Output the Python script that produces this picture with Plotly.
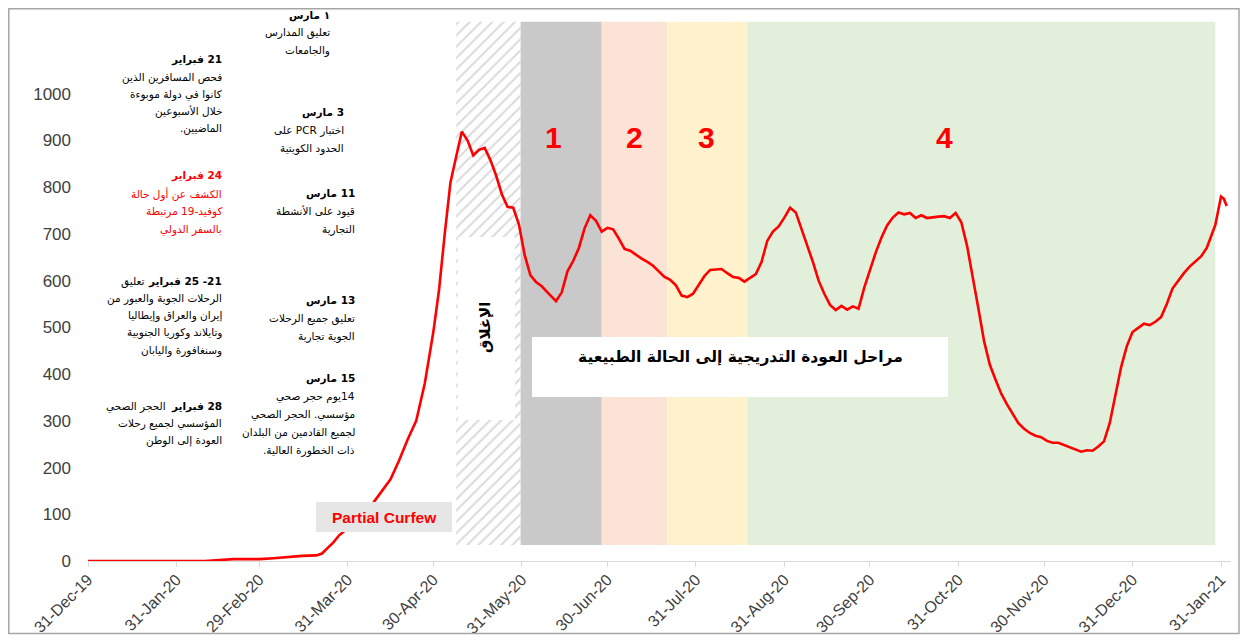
import plotly.graph_objects as go

# ---------------- data ----------------
dates = [
    "2019-12-31", "2020-01-15", "2020-01-31", "2020-02-10", "2020-02-15", "2020-02-20",
    "2020-02-25", "2020-02-29", "2020-03-05", "2020-03-10", "2020-03-15", "2020-03-20",
    "2020-03-22", "2020-03-24", "2020-03-26", "2020-03-28", "2020-03-31", "2020-04-03",
    "2020-04-06", "2020-04-09", "2020-04-12", "2020-04-15", "2020-04-18", "2020-04-21",
    "2020-04-24", "2020-04-27", "2020-04-30", "2020-05-02", "2020-05-04", "2020-05-06",
    "2020-05-08", "2020-05-10", "2020-05-12", "2020-05-14", "2020-05-16", "2020-05-18",
    "2020-05-20", "2020-05-22", "2020-05-24", "2020-05-26", "2020-05-28", "2020-05-30",
    "2020-06-01", "2020-06-03", "2020-06-05", "2020-06-07", "2020-06-09", "2020-06-11",
    "2020-06-12", "2020-06-14", "2020-06-16", "2020-06-18", "2020-06-20", "2020-06-22",
    "2020-06-24", "2020-06-26", "2020-06-28", "2020-06-30", "2020-07-02", "2020-07-04",
    "2020-07-06", "2020-07-08", "2020-07-10", "2020-07-12", "2020-07-14", "2020-07-16",
    "2020-07-18", "2020-07-20", "2020-07-22", "2020-07-24", "2020-07-26", "2020-07-28",
    "2020-07-30", "2020-08-01", "2020-08-03", "2020-08-05", "2020-08-07", "2020-08-09",
    "2020-08-11", "2020-08-13", "2020-08-15", "2020-08-17", "2020-08-19", "2020-08-21",
    "2020-08-23", "2020-08-25", "2020-08-27", "2020-08-29", "2020-08-31", "2020-09-02",
    "2020-09-04", "2020-09-06", "2020-09-08", "2020-09-10", "2020-09-12", "2020-09-14",
    "2020-09-16", "2020-09-18", "2020-09-20", "2020-09-22", "2020-09-24", "2020-09-26",
    "2020-09-28", "2020-09-30", "2020-10-02", "2020-10-04", "2020-10-06", "2020-10-08",
    "2020-10-10", "2020-10-12", "2020-10-14", "2020-10-16", "2020-10-18", "2020-10-20",
    "2020-10-22", "2020-10-24", "2020-10-26", "2020-10-28", "2020-10-30", "2020-11-01",
    "2020-11-03", "2020-11-05", "2020-11-07", "2020-11-09", "2020-11-11", "2020-11-13",
    "2020-11-15", "2020-11-17", "2020-11-19", "2020-11-21", "2020-11-23", "2020-11-25",
    "2020-11-27", "2020-11-29", "2020-12-01", "2020-12-03", "2020-12-05", "2020-12-07",
    "2020-12-09", "2020-12-11", "2020-12-13", "2020-12-15", "2020-12-17", "2020-12-19",
    "2020-12-21", "2020-12-23", "2020-12-25", "2020-12-27", "2020-12-29", "2020-12-31",
    "2021-01-02", "2021-01-04", "2021-01-06", "2021-01-08", "2021-01-10", "2021-01-12",
    "2021-01-14", "2021-01-16", "2021-01-18", "2021-01-20", "2021-01-22", "2021-01-24",
    "2021-01-26", "2021-01-28", "2021-01-29", "2021-01-31", "2021-02-01", "2021-02-02",
]
cases = [
    0, 0, 0, 0, 2, 4,
    4, 4, 6, 9, 11, 12,
    16, 28, 40, 55, 70, 88,
    105, 125, 150, 175, 215, 260,
    300, 380, 490, 580, 700, 810,
    865, 919, 900, 868, 880, 884,
    858, 825, 785, 758, 756, 720,
    655, 612, 597, 588, 575, 562,
    556, 575, 620, 642, 670, 712,
    740, 728, 705, 713, 710, 690,
    668, 664, 655, 647, 640, 632,
    620, 608, 602, 590, 568, 565,
    572, 590, 610, 623, 624, 625,
    616, 608, 606, 598, 606, 614,
    640, 685, 705, 716, 735, 756,
    746, 712, 675, 640, 600, 572,
    548, 537, 546, 538, 545, 540,
    585, 623, 660, 692, 718, 735,
    746, 742, 745, 734, 740, 734,
    736, 737, 738, 734, 745, 725,
    675, 610, 540, 470, 420, 388,
    358, 335, 315, 295, 283, 274,
    268, 265, 257, 253, 253, 248,
    243, 238, 234, 237, 236, 245,
    256, 295, 355, 415, 460, 490,
    499, 508, 505, 512, 522, 550,
    583, 600, 616, 630, 640, 652,
    670, 700, 719, 780, 775, 760,
]

tick_dates = ["2019-12-31", "2020-01-31", "2020-02-29", "2020-03-31", "2020-04-30",
              "2020-05-31", "2020-06-30", "2020-07-31", "2020-08-31", "2020-09-30",
              "2020-10-31", "2020-11-30", "2020-12-31", "2021-01-31"]
tick_labels = ["31-Dec-19", "31-Jan-20", "29-Feb-20", "31-Mar-20", "30-Apr-20",
               "31-May-20", "30-Jun-20", "31-Jul-20", "31-Aug-20", "30-Sep-20",
               "31-Oct-20", "30-Nov-20", "31-Dec-20", "31-Jan-21"]
y_ticks = [0, 100, 200, 300, 400, 500, 600, 700, 800, 900, 1000]

lockdown_span = ["2020-05-08", "2020-05-30T12:00"]
phase_starts = ["2020-05-30T12:00", "2020-06-28", "2020-07-21", "2020-08-18"]
phase_ends = ["2020-06-28", "2020-07-21", "2020-08-18", "2021-01-29"]
phase_names = ["1", "2", "3", "4"]
phase_colors = ["#c9c9c9", "#fbe3d6", "#fff2cc", "#e2efda"]

# each line: list of (text, bold, right-edge x) segments
left_notes = [
    ([[("21 فبراير", True, 224)], [("فحص المسافرين الذين", False, 224)], [("كانوا في دولة موبوءة", False, 224)],
      [("خلال الأسبوعين", False, 224)], [("الماضيين.", False, 224)]], "#000000"),
    ([[("24 فبراير", True, 224)], [("الكشف عن أول حالة", False, 224)], [("كوفيد-19 مرتبطة", False, 224)],
      [("بالسفر الدولي", False, 224)]], "#ff0000"),
    ([[("21- 25 فبراير", True, 224), ("تعليق", False, 146)], [("الرحلات الجوية والعبور من", False, 224)],
      [("إيران والعراق وإيطاليا", False, 224)], [("وتايلاند وكوريا الجنوبية", False, 224)],
      [("وسنغافورة واليابان", False, 224)]], "#000000"),
    ([[("28 فبراير", True, 224), ("الحجر الصحي", False, 168)], [("المؤسسي لجميع رحلات", False, 224)],
      [("العودة إلى الوطن", False, 224)]], "#000000"),
]
mid_notes = [
    [("١ مارس", True), ("تعليق المدارس", False), ("والجامعات", False)],
    [("3 مارس", True), ("اختبار PCR على", False), ("الحدود الكويتية", False)],
    [("11 مارس", True), ("قيود على الأنشطة", False), ("التجارية", False)],
    [("13 مارس", True), ("تعليق جميع الرحلات", False), ("الجوية تجارية", False)],
    [("15 مارس", True), ("14يوم حجر صحي", False), ("مؤسسي. الحجر الصحي", False),
     ("لجميع القادمين من البلدان", False), ("ذات الخطورة العالية.", False)],
]
lockdown_label = "الإغلاق"
phases_title = "مراحل العودة التدريجية إلى الحالة الطبيعية"
curfew_label = "Partial Curfew"

# ---------------- layout helpers ----------------
OFF = 8  # page body margin
W, H = 1232, 627
L, R, T, B = 80, 9, 11, 74
PW, PH = W - L - R, H - T - B


def px(x):
    return (x - OFF - L) / PW


def py(y):
    return (H - B - (y - OFF)) / PH


AR_FONT = "DejaVu Sans"
band_lo, band_hi = 34, 1154


def rtl(txt, bold):
    t = "\u202b" + txt + "\u202c"
    return "<b>" + t + "</b>" if bold else t


fig = go.Figure()

fig.add_trace(go.Scatter(
    x=[lockdown_span[0], lockdown_span[1], lockdown_span[1], lockdown_span[0], lockdown_span[0]],
    y=[band_lo, band_lo, band_hi, band_hi, band_lo],
    fill="toself", mode="lines", line=dict(width=0),
    fillcolor="white",
    fillpattern=dict(shape="/", fgcolor="#b5b5b5", bgcolor="white", size=8, solidity=0.25),
    hoverinfo="skip", showlegend=False,
))

fig.add_trace(go.Scatter(
    x=dates, y=cases, mode="lines",
    line=dict(color="#ff0000", width=2.6),
    showlegend=False,
))

shapes = []
for s, e, c in zip(phase_starts, phase_ends, phase_colors):
    shapes.append(dict(type="rect", xref="x", yref="y", x0=s, x1=e, y0=band_lo, y1=band_hi,
                       fillcolor=c, line=dict(width=0), layer="below"))

shapes.append(dict(type="rect", xref="paper", yref="paper", x0=px(458), x1=px(515), y0=py(420), y1=py(237),
                   fillcolor="white", line=dict(width=0), layer="above"))
shapes.append(dict(type="rect", xref="paper", yref="paper", x0=px(532), x1=px(948), y0=py(397), y1=py(337),
                   fillcolor="white", line=dict(width=0), layer="above"))
shapes.append(dict(type="rect", xref="paper", yref="paper", x0=px(316), x1=px(452), y0=py(532), y1=py(502),
                   fillcolor="#e7e6e6", line=dict(width=0), layer="above"))
shapes.append(dict(type="rect", xref="paper", yref="paper", x0=px(8.8), x1=px(1239), y0=py(633.5), y1=py(8.8),
                   fillcolor="rgba(0,0,0,0)", line=dict(color="#a6a6a6", width=1.5), layer="above"))

annotations = []


def add_text(x, y, text, size=10.5, color="#000000", family=AR_FONT, xanchor="right", angle=0):
    annotations.append(dict(x=px(x), y=py(y), xref="paper", yref="paper", text=text, showarrow=False,
                            xanchor=xanchor, yanchor="middle", textangle=angle,
                            font=dict(family=family, size=size, color=color)))


left_tops = [60, 176, 281, 406]
left_steps = [17, 18, 17.3, 17]
for (lines, col), y0, st in zip(left_notes, left_tops, left_steps):
    for i, segs in enumerate(lines):
        for txt, bold, xr in segs:
            add_text(xr, y0 + i * st, rtl(txt, bold), color=col)

mid_tops = [15, 112, 194, 300, 378]
mid_rights = [332, 346, 357, 357, 357]
for lines, y0, xr in zip(mid_notes, mid_tops, mid_rights):
    for i, (txt, bold) in enumerate(lines):
        add_text(xr, y0 + i * 18, rtl(txt, bold))

phase_label_x = [553, 634, 706, 944]
for name, xl in zip(phase_names, phase_label_x):
    add_text(xl, 137, "<b>" + name + "</b>", size=30, color="#ff0000", family="Liberation Sans", xanchor="center")

add_text(740, 357, rtl(phases_title, True), size=15.5, xanchor="center")
add_text(485, 328, rtl(lockdown_label, True), size=15, xanchor="center", angle=-90)
add_text(384, 517, "<b>" + curfew_label + "</b>", size=15.5, color="#ff0000", family="Liberation Sans",
         xanchor="center")

fig.update_layout(
    width=W, height=H,
    margin=dict(l=L, r=R, t=T, b=B, autoexpand=False),
    paper_bgcolor="white", plot_bgcolor="white",
    shapes=shapes, annotations=annotations,
    xaxis=dict(type="date", range=["2019-12-31", "2021-02-03T12:00"],
               tickvals=tick_dates, ticktext=tick_labels, tickangle=-45,
               showgrid=False, zeroline=False, showline=True, linecolor="#d9d9d9", linewidth=1.2,
               ticks="outside", ticklen=5, tickcolor="#d9d9d9", ticklabelstandoff=-3,
               tickfont=dict(family="Liberation Sans", size=16, color="#404040"), automargin=False),
    yaxis=dict(range=[0, 1160], tickvals=y_ticks, ticktext=[str(v) for v in y_ticks],
               showgrid=False, zeroline=False, showline=False, ticks="",
               ticklabelstandoff=16,
               tickfont=dict(family="Liberation Sans", size=17, color="#404040"), automargin=False),
    hovermode=False,
)

fig.write_html("out.html", config={"displayModeBar": False})
